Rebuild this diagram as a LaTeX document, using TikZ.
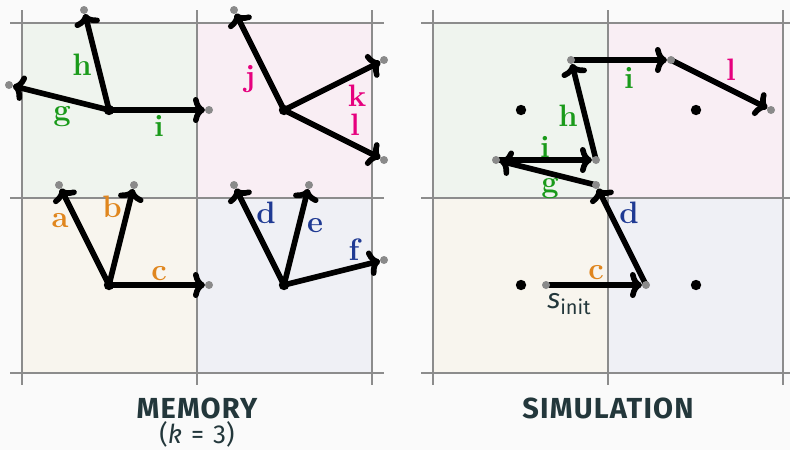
\documentclass[tikz,border=0pt]{standalone}
\usepackage{fontspec}
\setsansfont{Fira Sans}
\newfontfamily\titlefont[LetterSpace=4.0]{Fira Sans}
\usetikzlibrary{arrows.meta}
\definecolor{bgc}{HTML}{FAFAFA}
\definecolor{cgreen}{HTML}{EFF4EE}
\definecolor{cpink}{HTML}{F9EEF4}
\definecolor{cbeige}{HTML}{F8F5EE}
\definecolor{cblue}{HTML}{EFF0F5}
\definecolor{gridc}{HTML}{8C8C8C}
\definecolor{dotc}{HTML}{8A8A8A}
\definecolor{lgreen}{HTML}{1A9A1A}
\definecolor{lpink}{HTML}{E6007E}
\definecolor{lorange}{HTML}{E0861E}
\definecolor{lblue}{HTML}{1F3A93}
\definecolor{titlec}{HTML}{23373B}
\begin{document}
\begin{tikzpicture}[x=0.5pt,y=-0.5pt,
  gridline/.style={draw=gridc, line width=1.2pt},
  arr/.style={line width=2.8pt, -{Computer Modern Rightarrow[length=6pt,width=13pt]}, shorten >=2pt},
  lab/.style={font=\fontsize{15.5}{15.5}\selectfont\bfseries, anchor=base, inner sep=0pt},
  title/.style={font=\titlefont\bfseries\fontsize{14.5}{14.5}\selectfont, text=titlec, anchor=base, inner sep=0pt},
  bdot/.style={fill=black},
  gdot/.style={fill=dotc}]
\useasboundingbox (0,0) rectangle (790,450);
\clip (0,0) rectangle (790,450);
\fill[bgc] (0,0) rectangle (790,450);
% cells and grid
\foreach \ox in {22,433} {
  \fill[cgreen] (\ox,23) rectangle ++(175,175);
  \fill[cpink] (\ox+175,23) rectangle ++(175,175);
  \fill[cbeige] (\ox,198) rectangle ++(175,175);
  \fill[cblue] (\ox+175,198) rectangle ++(175,175);
  \foreach \k in {0,1,2} {
    \draw[gridline] (\ox+\k*175,10) -- (\ox+\k*175,385);
    \draw[gridline] (\ox-12,23+\k*175) -- (\ox+362,23+\k*175);
  }
}
% ---------- MEMORY panel ----------
\coordinate (mC) at (109,110);
\coordinate (mD) at (284,110);
\coordinate (mA) at (109,285);
\coordinate (mB) at (284,285);
\coordinate (eh) at (84,10);
\coordinate (eg) at (9,85);
\coordinate (ei) at (209,110);
\coordinate (ej) at (234,10);
\coordinate (ek) at (384,60);
\coordinate (el) at (384,160);
\coordinate (ea) at (59,185);
\coordinate (eb) at (134,185);
\coordinate (ec) at (209,285);
\coordinate (ed) at (234,185);
\coordinate (ee) at (309,185);
\coordinate (ef) at (384,260);
\foreach \s/\t in {mC/eh,mC/eg,mC/ei,mD/ej,mD/ek,mD/el,mA/ea,mA/eb,mA/ec,mB/ed,mB/ee,mB/ef}
  \draw[arr] (\s) -- (\t);
\foreach \p in {eh,eg,ei,ej,ek,el,ea,eb,ec,ed,ee,ef}
  \fill[gdot] (\p) circle[radius=2pt];
\foreach \p in {mA,mB,mC,mD}
  \fill[bdot] (\p) circle[radius=2.6pt];
\node[lab, text=lgreen] (lh) at (82,75) {h};
\node[lab, text=lgreen] (lg) at (62,120) {g};
\node[lab, text=lgreen] (li) at (159,136) {i};
\node[lab, text=lpink] (lj) at (250,86) {j};
\node[lab, text=lpink] (lk) at (357,106) {k};
\node[lab, text=lpink] (ll) at (355,135) {l};
\node[lab, text=lorange] (la) at (60,227) {a};
\node[lab, text=lorange] (lb) at (112,217) {b};
\node[lab, text=lorange] (lc) at (159,280) {c};
\node[lab, text=lblue] (ld) at (266,223) {d};
\node[lab, text=lblue] (le) at (315,232) {e};
\node[lab, text=lblue] (lf) at (354,260) {f};
\node[title] (tmem) at (197,418) {MEMORY};
\node[font=\sffamily\fontsize{13}{13}\selectfont, text=titlec, anchor=base, inner sep=0pt] (tk) at (197,443) {(\textit{k}\hspace{0.35em}=\hspace{0.35em}3)};
% ---------- SIMULATION panel ----------
\coordinate (sC) at (521,110);
\coordinate (sD) at (696,110);
\coordinate (sA) at (521,285);
\coordinate (sB) at (696,285);
\coordinate (p0) at (546,285);
\coordinate (p1) at (646,285);
\coordinate (p2) at (596,185);
\coordinate (p3) at (496,160);
\coordinate (p4) at (596,160);
\coordinate (p5) at (571,60);
\coordinate (p6) at (671,60);
\coordinate (p7) at (771,110);
\foreach \s/\t in {p0/p1,p1/p2,p2/p3,p3/p4,p4/p5,p5/p6,p6/p7}
  \draw[arr] (\s) -- (\t);
\foreach \p in {p0,p1,p2,p3,p4,p5,p6,p7}
  \fill[gdot] (\p) circle[radius=2pt];
\foreach \p in {sA,sB,sC,sD}
  \fill[bdot] (\p) circle[radius=2.6pt];
\node[lab, text=lorange] (sc) at (596,279) {c};
\node[lab, text=lblue] (sd) at (629,223) {d};
\node[lab, text=lgreen] (sg) at (550,192) {g};
\node[lab, text=lgreen] (si1) at (545,157) {i};
\node[lab, text=lgreen] (sh) at (568,126) {h};
\node[lab, text=lgreen] (si2) at (629,88) {i};
\node[lab, text=lpink] (sl) at (731,80) {l};
\node[font=\sffamily\fontsize{14}{14}\selectfont, text=titlec, anchor=base, inner sep=0pt] (sinit) at (569,308) {\textit{s}\raisebox{-0.45ex}{\fontsize{10}{10}\selectfont init}};
\node[title] (tsim) at (608,418) {SIMULATION};
\end{tikzpicture}
\end{document}
